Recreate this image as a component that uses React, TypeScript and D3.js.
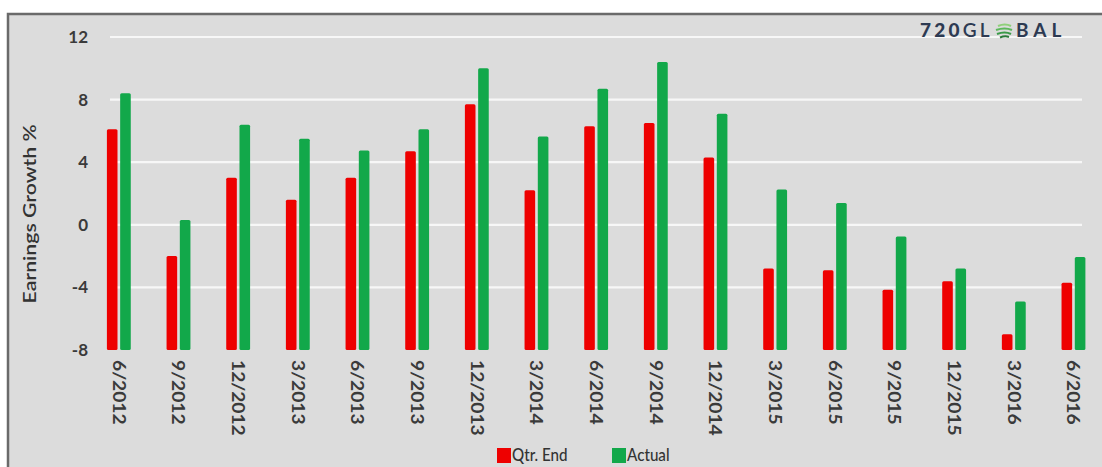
import React from "react";
import * as d3 from "d3";

const categories = ["6/2012","9/2012","12/2012","3/2013","6/2013","9/2013","12/2013","3/2014","6/2014","9/2014","12/2014","3/2015","6/2015","9/2015","12/2015","3/2016","6/2016"];
const qtrEnd = [6.1, -2.0, 3.0, 1.6, 3.0, 4.7, 7.7, 2.2, 6.3, 6.5, 4.3, -2.8, -2.9, -4.15, -3.6, -7.0, -3.7];
const actual = [8.4, 0.3, 6.4, 5.5, 4.75, 6.1, 10.0, 5.65, 8.7, 10.4, 7.1, 2.25, 1.4, -0.75, -2.8, -4.9, -2.05];
const seriesNames = ["Qtr. End", "Actual"];
const seriesColors = ["#ee0000", "#12a84a"];
const yTicks = [12, 8, 4, 0, -4, -8];

const W = 1102, H = 467;
const FONT = "Lato, 'Open Sans', sans-serif";

export default function App() {
  const y = d3.scaleLinear().domain([-8, 12]).range([350, 37]);
  const x0 = d3.scaleBand<string>().domain(categories).range([89, 1103.3]).paddingInner(0.6).paddingOuter(0.3);
  const x1 = d3.scaleBand<string>().domain(seriesNames).range([0, x0.bandwidth()]).paddingInner(0.2);
  const data = [qtrEnd, actual];

  return (
    <svg width={W} height={H} style={{ position: "absolute", left: 0, top: 0, display: "block" }} fontFamily={FONT}>
      <rect x={0} y={0} width={W} height={H} fill="#ffffff" />
      <rect x={8} y={14} width={W} height={H} fill="#dcdcdc" stroke="#6a6a6a" strokeWidth={2.5} />
      {/* gridlines */}
      {yTicks.filter(t => t !== -8).map(t => (
        <line key={t} x1={110} x2={1082} y1={y(t)} y2={y(t)} stroke="#f7f7f7" strokeWidth={2.2} />
      ))}
      {/* y tick labels */}
      {yTicks.map(t => (
        <text key={t} x={88} y={y(t)} dy="0.35em" textAnchor="end" fontSize={17} fontWeight={700} fill="#3a3a3a">{t}</text>
      ))}
      {/* y title */}
      <text transform={`translate(30,${y(0.7)}) rotate(-90) scale(1.25,1)`} dy="0.35em" textAnchor="middle" fontSize={17} fill="#333" fontWeight={600}>Earnings Growth %</text>
      {/* bars */}
      {categories.map((c, i) => (
        <g key={c} transform={`translate(${x0(c)},0)`}>
          {seriesNames.map((s, k) => (
            <rect key={s} x={x1(s)} y={y(data[k][i])} width={x1.bandwidth()} height={y(-8) - y(data[k][i])} fill={seriesColors[k]} rx={1.5} />
          ))}
        </g>
      ))}
      {/* x labels */}
      {categories.map(c => (
        <text key={c} transform={`translate(${(x0(c) as number) + x0.bandwidth() / 2},360) rotate(90) scale(1.13,1)`} dy="0.36em" textAnchor="start" fontSize={17} fontWeight={700} fill="#3a3a3a">{c}</text>
      ))}
      {/* legend */}
      {seriesNames.map((s, k) => {
        const lx = k === 0 ? 497 : 612;
        return (
          <g key={s}>
            <rect x={lx} y={448} width={14} height={15} fill={seriesColors[k]} />
            <text x={lx + 15} y={461.5} fontSize={16.5} fill="#333" fontWeight={500} transform={`translate(${lx + 15},0) scale(0.92,1) translate(${-(lx + 15)},0)`}>{s}</text>
          </g>
        );
      })}
      {/* logo */}
      <g>
        <text x={920} y={37} fontSize={19} fill="#2d3a52" letterSpacing={3.2}>
          <tspan fontWeight={900}>720</tspan><tspan fontWeight={600}>GL</tspan>
        </text>
        <g transform="translate(1004,30)">
          <path d="M-6,-4 Q1,-7 7,-4" stroke="#8fd07a" strokeWidth={2.2} fill="none" />
          <path d="M-8,0 Q1,-3 8,0" stroke="#5cb85c" strokeWidth={2.2} fill="none" />
          <path d="M-7,4 Q1,1 7,4" stroke="#3a9a48" strokeWidth={2.2} fill="none" />
          <path d="M-4,7.5 Q1,5.5 5,7" stroke="#2b7a3a" strokeWidth={2} fill="none" />
        </g>
        <text x={1016} y={37} fontSize={19} fontWeight={700} fill="#2d3a52" letterSpacing={5}>BAL</text>
      </g>
    </svg>
  );
}
